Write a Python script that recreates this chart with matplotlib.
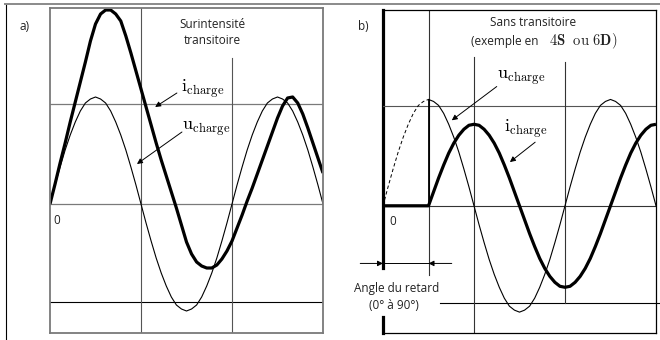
import numpy as np
import matplotlib
matplotlib.use("Agg")
import matplotlib.pyplot as plt
from matplotlib.lines import Line2D

plt.rcParams['font.family'] = ['Open Sans', 'DejaVu Sans']
plt.rcParams['mathtext.fontset'] = 'cm'

# angle électrique (degrés), pas de 10°
angle = np.arange(0, 541, 10)

# tension de charge (même forme pour a et b)
u_charge = [0, 0.19, 0.37, 0.54, 0.69, 0.82, 0.93, 1.01, 1.05, 1.07,
            1.05, 1.01, 0.93, 0.82, 0.69, 0.54, 0.37, 0.19, 0,
            -0.19, -0.37, -0.54, -0.69, -0.82, -0.93, -1.01, -1.05, -1.07,
            -1.05, -1.01, -0.93, -0.82, -0.69, -0.54, -0.37, -0.19, 0,
            0.19, 0.37, 0.54, 0.69, 0.82, 0.93, 1.01, 1.05, 1.07,
            1.05, 1.01, 0.93, 0.82, 0.69, 0.54, 0.37, 0.19, 0]

# a) courant avec surintensité transitoire
i_charge_a = [0, 0.20, 0.41, 0.61, 0.82, 1.02, 1.22, 1.42, 1.63, 1.80,
              1.90, 1.94, 1.94, 1.90, 1.83, 1.68, 1.51, 1.33, 1.15,
              0.97, 0.79, 0.61, 0.44, 0.28, 0.12, -0.04, -0.21, -0.38,
              -0.50, -0.58, -0.62, -0.64, -0.64, -0.61, -0.55, -0.47, -0.37,
              -0.24, -0.11, 0.03, 0.16, 0.30, 0.44, 0.58, 0.72, 0.86,
              0.98, 1.06, 1.07, 1.01, 0.90, 0.76, 0.61, 0.46, 0.31]

# b) courant sans transitoire, enclenchement retardé
retard = 90
i_charge_b = [0, 0, 0, 0, 0, 0, 0, 0, 0, 0,
              0.14, 0.28, 0.41, 0.53, 0.63, 0.71, 0.77, 0.81, 0.82,
              0.81, 0.77, 0.71, 0.63, 0.53, 0.41, 0.28, 0.14, 0,
              -0.14, -0.28, -0.41, -0.53, -0.63, -0.71, -0.77, -0.81, -0.82,
              -0.81, -0.77, -0.71, -0.63, -0.53, -0.41, -0.28, -0.14, 0,
              0.14, 0.28, 0.41, 0.53, 0.63, 0.71, 0.77, 0.81, 0.82]

u_charge = np.array(u_charge)
grey = '#7a7a7a'
txt = '#222222'
lab_i = r'$\mathrm{i}_{\mathrm{charge}}$'
lab_u = r'$\mathrm{u}_{\mathrm{charge}}$'
arrow = dict(arrowstyle='-|>', color='k', lw=0.7, mutation_scale=8,
             shrinkA=0, shrinkB=0)

fig = plt.figure(figsize=(6.6, 3.4), dpi=100)
W, H = 660, 340

# cadre général
fig.add_artist(Line2D([5/W, 1], [1 - 4/H, 1 - 4/H], color='#8a8a8a', lw=1.4))
fig.add_artist(Line2D([5.5/W, 5.5/W], [0, 1 - 5/H], color='k', lw=0.8))

# ---- a) ----
ax = fig.add_axes([50/W, 1 - 333/H, 273/W, 325/H])
ax.set_xlim(0, 540)
ax.set_ylim(-1.29, 1.96)
for s in ax.spines.values():
    s.set_color(grey)
    s.set_linewidth(1.3)
ax.set_xticks([])
ax.set_yticks([])
ax.axhline(1, color=grey, lw=0.9)
ax.axhline(0, color=grey, lw=0.9)
ax.axhline(-0.98, color='k', lw=0.8)
ax.axvline(180, color='#555555', lw=0.8)
ax.axvline(360, ymax=0.846, color='#555555', lw=0.8)

ax.plot(angle, u_charge, color='k', lw=0.8)
ax.plot(angle, i_charge_a, color='k', lw=2.3, solid_capstyle='butt')

ax.text(322, 1.72, 'Surintensité\ntransitoire', ha='center', va='center',
        fontsize=8.5, color=txt, linespacing=1.3)
ax.text(259, 1.15, lab_i, fontsize=13, va='center')
ax.annotate('', xy=(208, 0.97), xytext=(251, 1.11), arrowprops=arrow)
ax.text(261, 0.75, lab_u, fontsize=13, va='center')
ax.annotate('', xy=(172, 0.40), xytext=(261, 0.72), arrowprops=arrow)
ax.text(14, -0.16, '0', fontsize=8.5, ha='center', va='center', color=txt)
fig.text(25/W, 1 - 27/H, 'a)', fontsize=8.5, ha='center', va='center',
         color=txt)

# ---- b) ----
bx = fig.add_axes([383/W, 1 - 333/H, 273/W, 323/H])
bx.set_xlim(0, 540)
bx.set_ylim(-1.28, 1.97)
bx.spines['left'].set_visible(False)
for k in ('top', 'right', 'bottom'):
    bx.spines[k].set_linewidth(0.9)
bx.set_xticks([])
bx.set_yticks([])
bx.axvline(0, ymin=0.201, ymax=1, color='k', lw=2.3, clip_on=False)
bx.axvline(0, ymin=0, ymax=0.05, color='k', lw=2.3, clip_on=False)
bx.axhline(1, color='#555555', lw=0.8)
bx.axhline(0, color='#333333', lw=0.8)
bx.axhline(-0.975, xmin=0.209, xmax=1.01, color='k', lw=0.8, clip_on=False)
bx.axvline(retard, ymin=0.18, color='#333333', lw=0.8)
bx.axvline(180, ymax=0.854, color='#333333', lw=0.8)
bx.axvline(360, ymin=0.093, ymax=0.839, color='#333333', lw=0.8)

avant = angle <= retard
apres = angle >= retard
bx.plot(angle[avant], u_charge[avant], color='k', lw=0.7, ls=(0, (3.5, 2.5)))
bx.plot(angle[apres], u_charge[apres], color='k', lw=0.8)
bx.vlines(retard, 0, u_charge[angle == retard][0], color='k', lw=1.3)
bx.plot(angle, i_charge_b, color='k', lw=2.3, solid_capstyle='butt')

bx.text(297, 1.84, 'Sans transitoire', ha='center', va='center',
        fontsize=8.5, color=txt)
bx.text(307, 1.65, '(exemple en', ha='right', va='center',
        fontsize=8.5, color=txt)
bx.text(328, 1.655, r'$\mathbf{4S}\ \ \mathrm{ou}\ \mathbf{6D})$',
        ha='left', va='center', fontsize=10.5, color=txt)
bx.text(226, 1.29, lab_u, fontsize=13, va='center')
bx.annotate('', xy=(136, 0.86), xytext=(225, 1.20), arrowprops=arrow)
bx.text(239, 0.78, lab_i, fontsize=13, va='center')
bx.annotate('', xy=(251, 0.44), xytext=(301, 0.64), arrowprops=arrow)
bx.text(20, -0.16, '0', fontsize=8.5, ha='center', va='center', color=txt)
fig.text(363/W, 1 - 27/H, 'b)', fontsize=8.5, ha='center', va='center',
         color=txt)

# cote de l'angle de retard
y_cote = -0.58
bx.annotate('', xy=(0, y_cote), xytext=(-45, y_cote), arrowprops=arrow,
            annotation_clip=False)
bx.annotate('', xy=(retard, y_cote), xytext=(136, y_cote), arrowprops=arrow,
            annotation_clip=False)
bx.plot([0, retard], [y_cote, y_cote], color='k', lw=0.7)
bx.text(26, -0.83, 'Angle du retard', ha='center', va='center', fontsize=8.5,
        color=txt, clip_on=False)
bx.text(22, -1.0, '(0° à 90°)', ha='center', va='center', fontsize=8.5,
        color=txt, clip_on=False)

fig.savefig('out.png', dpi=100)
